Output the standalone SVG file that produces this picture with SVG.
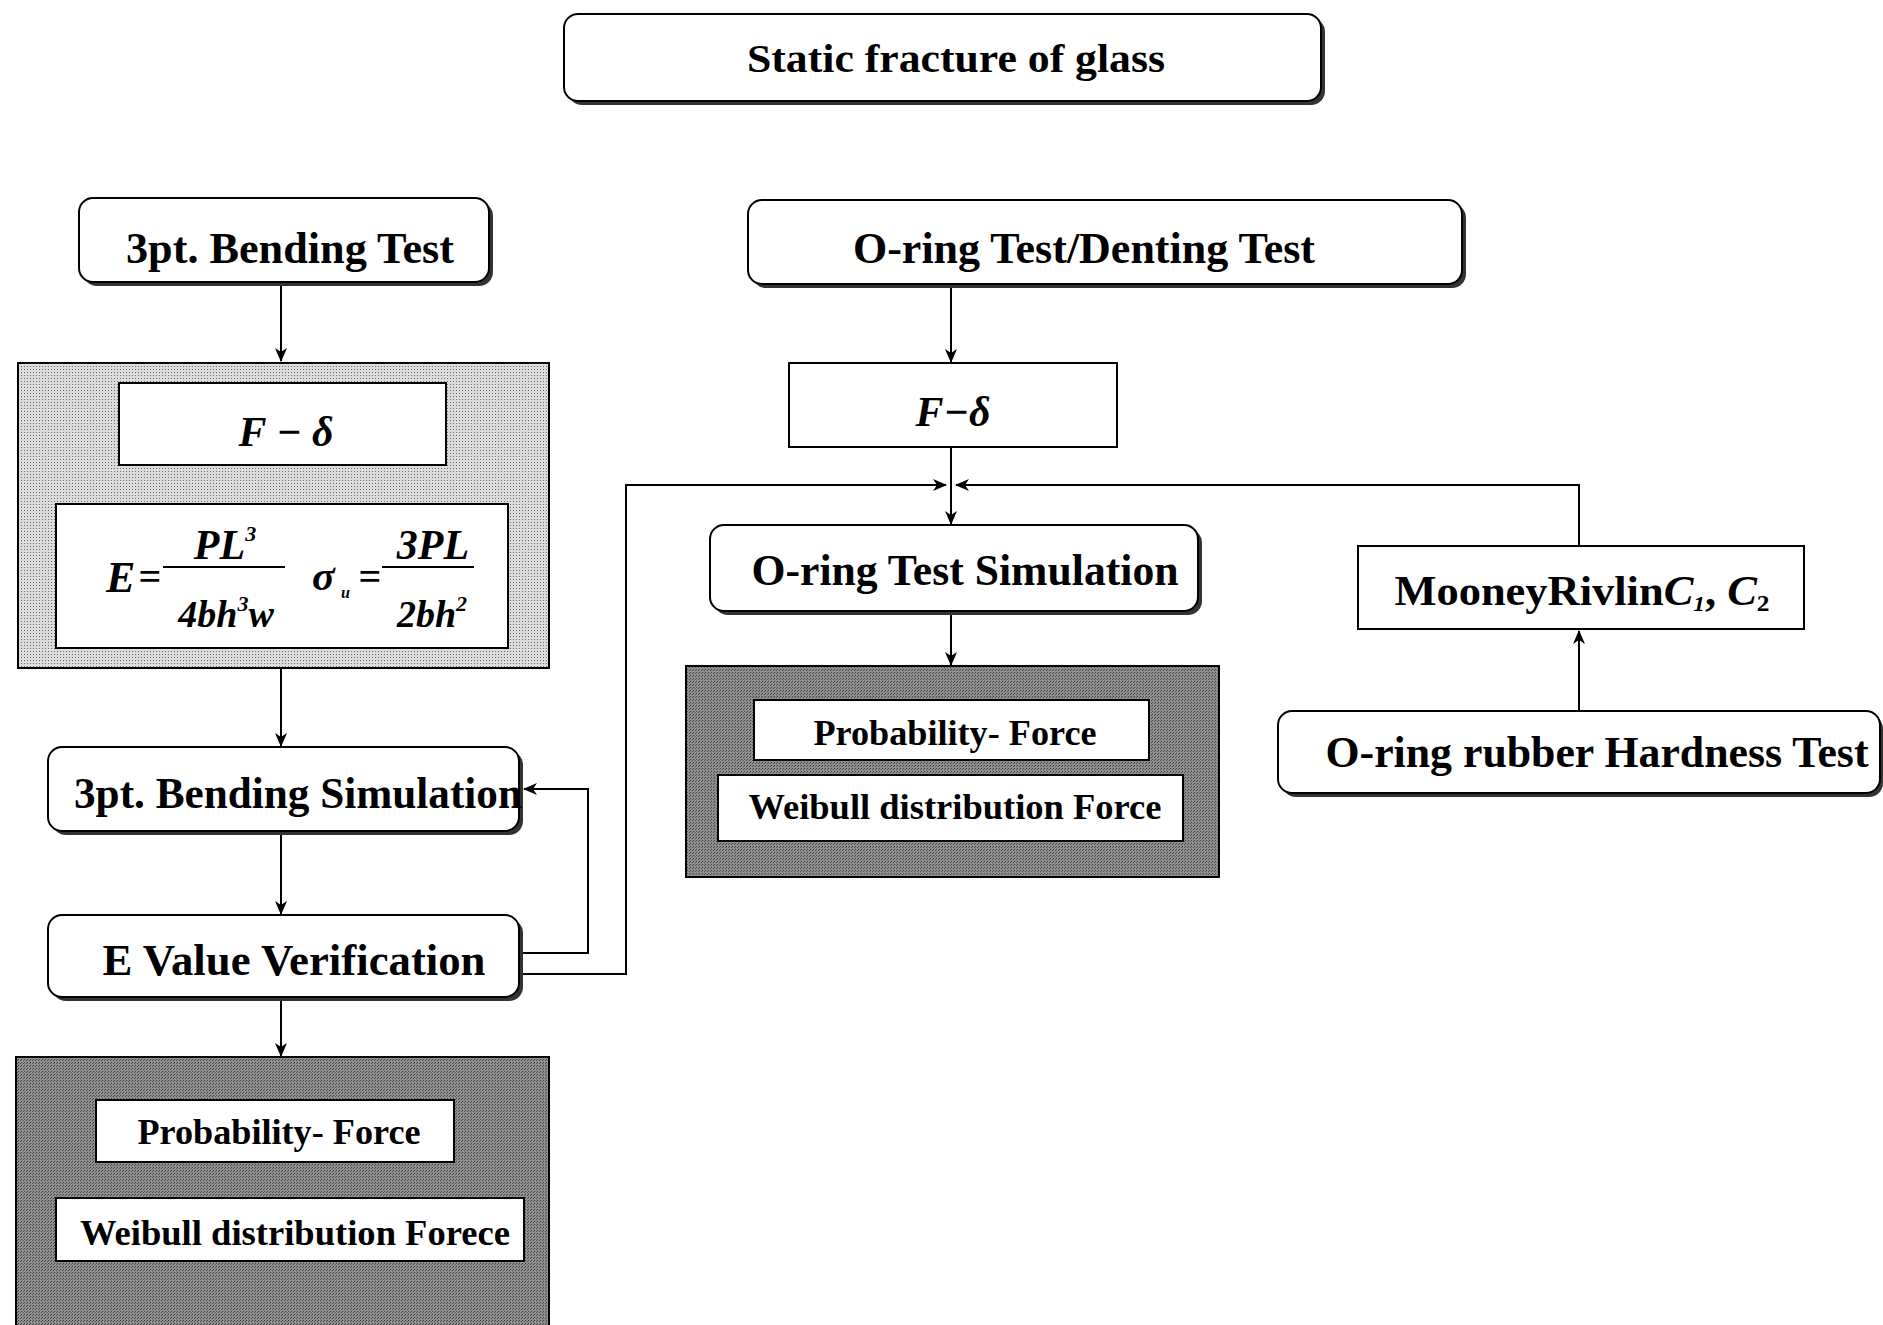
<svg xmlns="http://www.w3.org/2000/svg" width="1883" height="1325" viewBox="0 0 1883 1325">
<style>
.t{font-family:"Liberation Serif","Times New Roman",serif;font-weight:bold;fill:#000;text-anchor:middle}
.f{font-family:"Liberation Serif","Times New Roman",serif;font-weight:bold;font-style:italic;fill:#000}
.box{fill:#fff;stroke:#000;stroke-width:2}
.sh{fill:#333}
.ln{fill:none;stroke:#000;stroke-width:2}
</style>
<defs>
<pattern id="light" width="3" height="3" patternUnits="userSpaceOnUse">
<rect width="3" height="3" fill="#dcdcdc"/>
<rect width="1" height="1" fill="#6a6a6a"/>
</pattern>
<pattern id="dark" width="3" height="3" patternUnits="userSpaceOnUse">
<rect width="3" height="3" fill="#8e8e8e"/>
<rect width="1" height="1" fill="#404040"/>
<rect x="2" y="1" width="1" height="1" fill="#505050"/>
</pattern>
<marker id="ah" markerWidth="14" markerHeight="12" refX="13" refY="6" orient="auto" markerUnits="userSpaceOnUse">
<path d="M0,0 L14,6 L0,12 L4,6 Z" fill="#000"/>
</marker>
</defs>
<rect width="1883" height="1325" fill="#fff"/>

<g id="connectors">
<line class="ln" x1="281" y1="284" x2="281" y2="361" marker-end="url(#ah)"/>
<line class="ln" x1="281" y1="466" x2="281" y2="503" marker-end="url(#ah)"/>
<line class="ln" x1="281" y1="668" x2="281" y2="746" marker-end="url(#ah)"/>
<line class="ln" x1="281" y1="833" x2="281" y2="914" marker-end="url(#ah)"/>
<line class="ln" x1="281" y1="999" x2="281" y2="1056" marker-end="url(#ah)"/>
<polyline class="ln" points="521,953 588,953 588,789 524,789" marker-end="url(#ah)"/>
<polyline class="ln" points="521,974 626,974 626,485 946,485" marker-end="url(#ah)"/>
<line class="ln" x1="951" y1="288" x2="951" y2="362" marker-end="url(#ah)"/>
<line class="ln" x1="951" y1="448" x2="951" y2="524" marker-end="url(#ah)"/>
<polyline class="ln" points="1579,546 1579,485 956,485" marker-end="url(#ah)"/>
<line class="ln" x1="951" y1="614" x2="951" y2="665" marker-end="url(#ah)"/>
<line class="ln" x1="1579" y1="711" x2="1579" y2="631" marker-end="url(#ah)"/>
</g>

<g id="title">
<rect class="sh" x="568" y="18" width="757" height="87" rx="14"/>
<rect class="box" x="564" y="14" width="757" height="87" rx="14"/>
<text class="t" x="956" y="72" font-size="40" textLength="418" lengthAdjust="spacingAndGlyphs">Static fracture of glass</text>
</g>

<g id="bending-test">
<rect class="sh" x="83" y="202" width="410" height="84" rx="14"/>
<rect class="box" x="79" y="198" width="410" height="84" rx="14"/>
<text class="t" x="290" y="263" font-size="44" textLength="328" lengthAdjust="spacingAndGlyphs">3pt. Bending Test</text>
</g>

<g id="bending-analysis">
<rect x="18" y="363" width="531" height="305" fill="url(#light)" stroke="#000" stroke-width="2"/>
<g id="fd-left">
<rect class="box" x="119" y="383" width="327" height="82" stroke-width="3"/>
<text class="f" x="286" y="446" font-size="42" text-anchor="middle">F − δ</text>
</g>
<g id="formula">
<rect class="box" x="56" y="504" width="452" height="144" stroke-width="3"/>
<text class="f" x="106" y="592" font-size="44">E</text>
<text class="t" x="150" y="590" font-size="40">=</text>
<line x1="163" y1="567" x2="285" y2="567" stroke="#000" stroke-width="2"/>
<text class="f" x="225" y="559" font-size="42" text-anchor="middle">PL<tspan font-size="22" dy="-18">3</tspan></text>
<text class="f" x="226" y="627" font-size="38" text-anchor="middle">4bh<tspan font-size="22" dy="-16">3</tspan><tspan dy="16">w</tspan></text>
<text class="f" x="312" y="590" font-size="42">σ</text>
<text class="f" x="341" y="598" font-size="16">u</text>
<text class="t" x="370" y="590" font-size="40">=</text>
<line x1="382" y1="567" x2="474" y2="567" stroke="#000" stroke-width="2"/>
<text class="f" x="433" y="559" font-size="42" text-anchor="middle">3PL</text>
<text class="f" x="432" y="627" font-size="38" text-anchor="middle">2bh<tspan font-size="22" dy="-16">2</tspan></text>
</g>
</g>

<g id="bending-simulation">
<rect class="sh" x="52" y="751" width="471" height="84" rx="14"/>
<rect class="box" x="48" y="747" width="471" height="84" rx="14"/>
<text class="t" x="298" y="808" font-size="44" textLength="448" lengthAdjust="spacingAndGlyphs">3pt. Bending Simulation</text>
</g>

<g id="e-value">
<rect class="sh" x="52" y="919" width="471" height="82" rx="14"/>
<rect class="box" x="48" y="915" width="471" height="82" rx="14"/>
<text class="t" x="294" y="975" font-size="44" textLength="383" lengthAdjust="spacingAndGlyphs">E Value Verification</text>
</g>

<g id="bending-result">
<rect x="16" y="1057" width="533" height="270" fill="url(#dark)" stroke="#000" stroke-width="2"/>
<g id="prob-left">
<rect class="box" x="96" y="1100" width="358" height="62" stroke-width="3"/>
<text class="t" x="279" y="1144" font-size="36" textLength="283" lengthAdjust="spacingAndGlyphs">Probability- Force</text>
</g>
<g id="weibull-left">
<rect class="box" x="56" y="1198" width="468" height="63" stroke-width="3"/>
<text class="t" x="295" y="1245" font-size="36" textLength="430" lengthAdjust="spacingAndGlyphs">Weibull distribution Forece</text>
</g>
</g>

<g id="oring-test">
<rect class="sh" x="752" y="204" width="714" height="84" rx="14"/>
<rect class="box" x="748" y="200" width="714" height="84" rx="14"/>
<text class="t" x="1084" y="263" font-size="44" textLength="462" lengthAdjust="spacingAndGlyphs">O-ring Test/Denting Test</text>
</g>

<g id="fd-right">
<rect class="box" x="789" y="363" width="328" height="84"/>
<text class="f" x="953" y="426" font-size="42" text-anchor="middle">F−δ</text>
</g>

<g id="oring-simulation">
<rect class="sh" x="714" y="529" width="488" height="86" rx="14"/>
<rect class="box" x="710" y="525" width="488" height="86" rx="14"/>
<text class="t" x="965" y="585" font-size="44" textLength="427" lengthAdjust="spacingAndGlyphs">O-ring Test Simulation</text>
</g>

<g id="oring-result">
<rect x="686" y="666" width="533" height="211" fill="url(#dark)" stroke="#000" stroke-width="2"/>
<g id="prob-right">
<rect class="box" x="754" y="700" width="395" height="60" stroke-width="3"/>
<text class="t" x="955" y="745" font-size="36" textLength="283" lengthAdjust="spacingAndGlyphs">Probability- Force</text>
</g>
<g id="weibull-right">
<rect class="box" x="718" y="775" width="465" height="66" stroke-width="3"/>
<text class="t" x="955" y="819" font-size="36" textLength="413" lengthAdjust="spacingAndGlyphs">Weibull distribution Force</text>
</g>
</g>

<g id="mooney-rivlin">
<rect class="box" x="1358" y="546" width="446" height="83"/>
<text class="t" x="1582" y="605" font-size="42" textLength="375" lengthAdjust="spacingAndGlyphs">MooneyRivlin<tspan font-style="italic">C</tspan><tspan font-style="italic" font-size="22" dy="6">1</tspan><tspan dy="-6">, </tspan><tspan font-style="italic">C</tspan><tspan font-size="24" dy="6">2</tspan></text>
</g>

<g id="hardness-test">
<rect class="sh" x="1282" y="715" width="601" height="82" rx="14"/>
<rect class="box" x="1278" y="711" width="602" height="82" rx="14"/>
<text class="t" x="1597" y="767" font-size="44" textLength="543" lengthAdjust="spacingAndGlyphs">O-ring rubber Hardness Test</text>
</g>
</svg>
